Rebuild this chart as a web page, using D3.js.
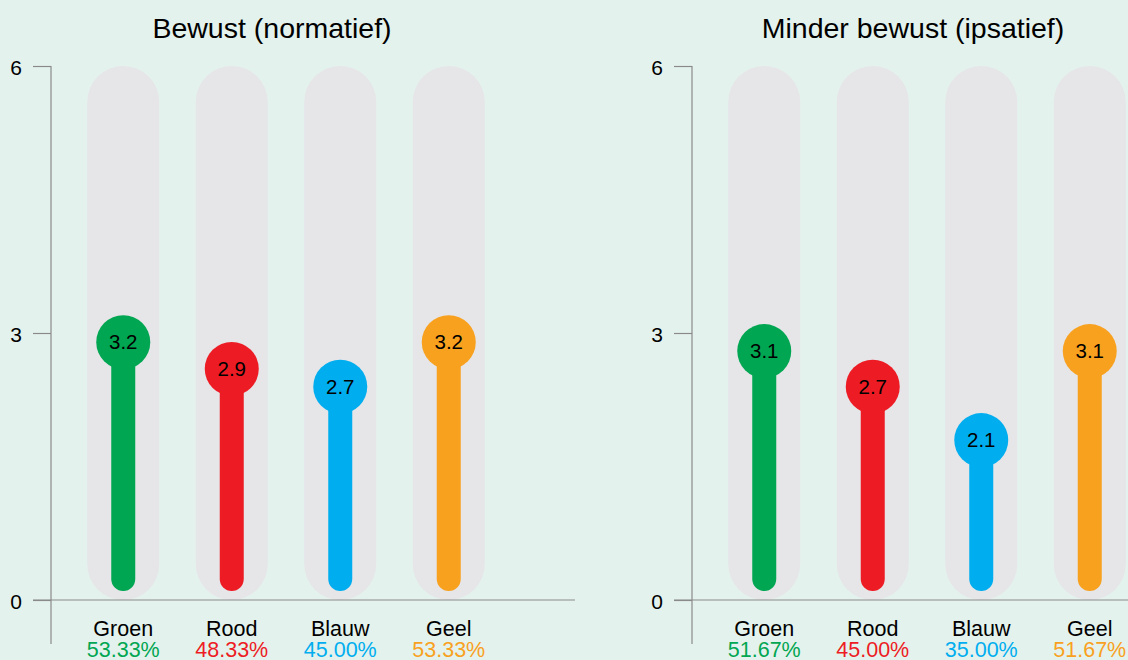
<!DOCTYPE html>
<html>
<head>
<meta charset="utf-8">
<script src="https://cdn.jsdelivr.net/npm/d3@7"></script>
<style>
  body { margin: 0; background: #e4f2ed; }
  svg { display: block; font-family: "Liberation Sans", Arial, sans-serif; }
</style>
</head>
<body>
<svg id="chart" width="1128" height="660"></svg>
<script>
// data
const categories = ["Groen", "Rood", "Blauw", "Geel"];
const colors = ["#00a651", "#ed1c24", "#00aeef", "#f8a11f"];
const panelTitles = ["Bewust (normatief)", "Minder bewust (ipsatief)"];
const normValues = [3.2, 2.9, 2.7, 3.2];
const normPercents = ["53.33%", "48.33%", "45.00%", "53.33%"];
const ipsValues = [3.1, 2.7, 2.1, 3.1];
const ipsPercents = ["51.67%", "45.00%", "35.00%", "51.67%"];
const yTicks = [0, 3, 6];

const svg = d3.select("#chart");
const y = d3.scaleLinear().domain([0, 6]).range([600, 66]);

const panels = [
  { title: panelTitles[0], values: normValues, pct: normPercents, axisX: 51, x0: 69, titleX: 272, lineEnd: 575 },
  { title: panelTitles[1], values: ipsValues, pct: ipsPercents, axisX: 692, x0: 710, titleX: 913, lineEnd: 1128 }
];

const pillW = 72, barW = 24, r = 27;

panels.forEach(p => {
  const g = svg.append("g");
  const x = d3.scaleBand().domain(categories).range([p.x0, p.x0 + 434]).padding(0);
  const cx = d => x(d.c) + x.bandwidth() / 2;

  g.append("text")
    .attr("x", p.titleX).attr("y", 38)
    .attr("text-anchor", "middle")
    .style("font-size", "28.5px")
    .text(p.title);

  // grey pills behind
  g.selectAll(".pill").data(categories).enter().append("rect")
    .attr("x", d => x(d) + x.bandwidth() / 2 - pillW / 2)
    .attr("y", y(6))
    .attr("width", pillW)
    .attr("height", y(0) - y(6))
    .attr("rx", pillW / 2)
    .attr("fill", "#e6e5e8");

  // baseline
  g.append("line")
    .attr("x1", p.axisX - 18).attr("x2", p.lineEnd)
    .attr("y1", y(0)).attr("y2", y(0))
    .attr("stroke", "#8a8a8a").attr("stroke-width", 1.2);

  // axis
  const axis = d3.axisLeft(y).tickValues(yTicks).tickSize(18).tickPadding(11).tickFormat(d3.format("d"));
  const ag = g.append("g").attr("transform", `translate(${p.axisX},0)`).call(axis);
  ag.select(".domain").remove();
  ag.selectAll(".tick line").attr("stroke", "#8a8a8a").attr("stroke-width", 1.2);
  ag.selectAll(".tick text").style("font-size", "21px").attr("fill", "#000").attr("dy", "0.4em");
  g.append("line")
    .attr("x1", p.axisX).attr("x2", p.axisX)
    .attr("y1", y(6)).attr("y2", 644)
    .attr("stroke", "#8a8a8a").attr("stroke-width", 1.2);

  const items = categories.map((c, i) => ({ c, v: p.values[i], col: colors[i], pct: p.pct[i] }));

  // stems
  g.selectAll(".stem").data(items).enter().append("rect")
    .attr("x", d => cx(d) - barW / 2)
    .attr("y", d => y(d.v) + r)
    .attr("width", barW)
    .attr("height", d => 591 - (y(d.v) + r))
    .attr("rx", barW / 2)
    .attr("fill", d => d.col);

  // heads
  g.selectAll(".head").data(items).enter().append("circle")
    .attr("cx", cx)
    .attr("cy", d => y(d.v) + r)
    .attr("r", r)
    .attr("fill", d => d.col);

  g.selectAll(".val").data(items).enter().append("text")
    .attr("x", cx)
    .attr("y", d => y(d.v) + r + 7)
    .attr("text-anchor", "middle")
    .style("font-size", "20.5px")
    .text(d => d.v.toFixed(1));

  g.selectAll(".cat").data(items).enter().append("text")
    .attr("x", cx)
    .attr("y", 636)
    .attr("text-anchor", "middle")
    .style("font-size", "21.5px")
    .text(d => d.c);

  g.selectAll(".pct").data(items).enter().append("text")
    .attr("x", cx)
    .attr("y", 657)
    .attr("text-anchor", "middle")
    .style("font-size", "21.5px")
    .attr("fill", d => d.col)
    .text(d => d.pct);
});
</script>
</body>
</html>
